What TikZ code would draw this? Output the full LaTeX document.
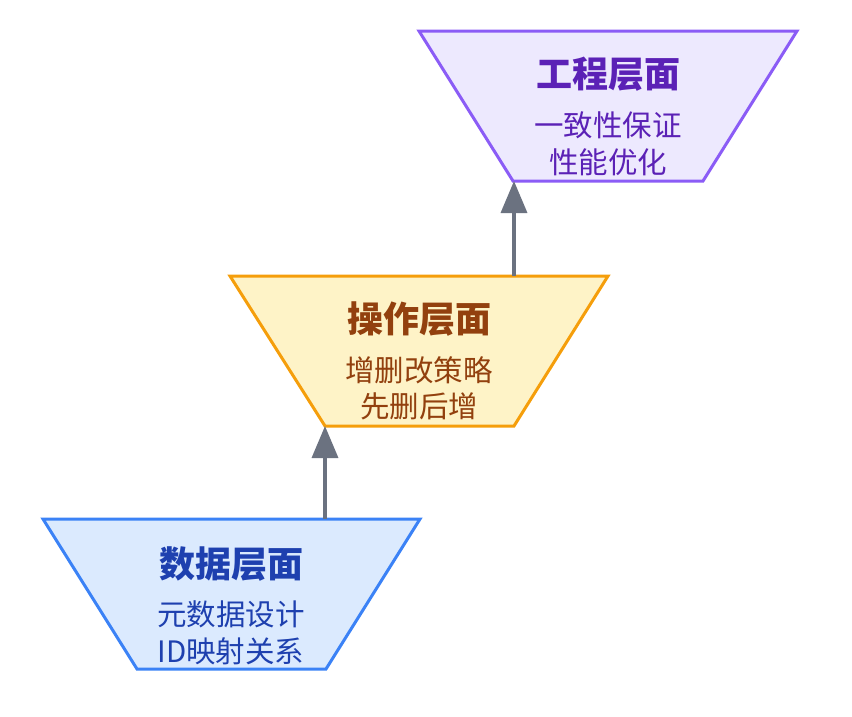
\documentclass[tikz,border=0pt]{standalone}
\usepackage{fontspec}
\setmainfont{Noto Sans CJK SC}
\usetikzlibrary{arrows.meta}
\definecolor{pfill}{HTML}{EDE9FE}\definecolor{pline}{HTML}{8B5CF6}\definecolor{ptext}{HTML}{5B21B6}
\definecolor{yfill}{HTML}{FEF3C7}\definecolor{yline}{HTML}{F59E0B}\definecolor{ytext}{HTML}{92400E}
\definecolor{bfill}{HTML}{DBEAFE}\definecolor{bline}{HTML}{3B82F6}\definecolor{btext}{HTML}{1E40AF}
\definecolor{arr}{HTML}{6B7280}
\tikzset{
  layer/.style={line width=3pt, line join=miter},
  ttl/.style={font=\fontsize{36}{40}\selectfont\bfseries, inner sep=0pt},
  sub/.style={font=\fontsize{29.5}{34}\selectfont, inner sep=0pt},
  link/.style={draw=arr, line width=3.5pt, -{Triangle[length=32pt,width=26pt]}},
}
\begin{document}
\begin{tikzpicture}[x=1pt,y=-1pt]
\useasboundingbox (0,0) rectangle (852,716);
% top layer
\coordinate (TtL) at (419,31); \coordinate (TtR) at (797,31);
\coordinate (TbR) at (703,181); \coordinate (TbL) at (513,181);
\draw[layer, draw=pline, fill=pfill] (TtL) -- (TtR) -- (TbR) -- (TbL) -- cycle;
\node[ttl, text=ptext] (t1) at (608,74) {工程层面};
\node[sub, text=ptext] (t1a) at (608,125) {一致性保证};
\node[sub, text=ptext] (t1b) at (608,162) {性能优化};
\coordinate (Tin) at (514,181);
% middle layer
\coordinate (MtL) at (230,276); \coordinate (MtR) at (608,276);
\coordinate (MbR) at (514,426); \coordinate (MbL) at (325,426);
\draw[layer, draw=yline, fill=yfill] (MtL) -- (MtR) -- (MbR) -- (MbL) -- cycle;
\node[ttl, text=ytext] (t2) at (419,319) {操作层面};
\node[sub, text=ytext] (t2a) at (419,370) {增删改策略};
\node[sub, text=ytext] (t2b) at (419,406) {先删后增};
\coordinate (Mout) at (514,276); \coordinate (Min) at (325,426);
% bottom layer
\coordinate (BtL) at (43,519); \coordinate (BtR) at (420,519);
\coordinate (BbR) at (326,669); \coordinate (BbL) at (137,669);
\draw[layer, draw=bline, fill=bfill] (BtL) -- (BtR) -- (BbR) -- (BbL) -- cycle;
\node[ttl, text=btext] (t3) at (231,564) {数据层面};
\node[sub, text=btext] (t3a) at (231,614) {元数据设计};
\node[sub, text=btext] (t3b) at (231,651) {ID映射关系};
\coordinate (Bout) at (325,519);
% connectors
\draw[link] (Mout) -- (Tin);
\draw[link] (Bout) -- (Min);
\end{tikzpicture}
\end{document}
